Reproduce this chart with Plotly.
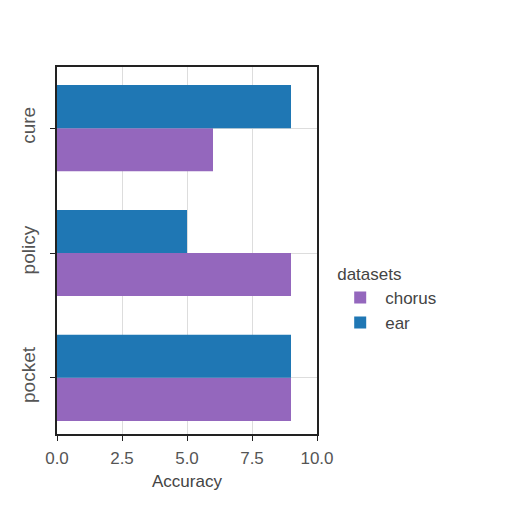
import plotly.graph_objects as go

categories = ["pocket", "policy", "cure"]
chorus = [9, 9, 6]
ear = [9, 5, 9]
x_ticks = [0, 2.5, 5, 7.5, 10]
x_tick_labels = ["0.0", "2.5", "5.0", "7.5", "10.0"]

fig = go.Figure()
fig.add_trace(go.Bar(y=categories, x=chorus, name="chorus", orientation="h",
                     marker=dict(color="#9467bd", line=dict(width=0))))
fig.add_trace(go.Bar(y=categories, x=ear, name="ear", orientation="h",
                     marker=dict(color="#1f77b4", line=dict(width=0))))

font_family = "Liberation Sans, Arial, sans-serif"
fig.update_layout(
    width=512, height=512,
    margin=dict(l=49, r=203, t=59, b=86, autoexpand=False),
    paper_bgcolor="white", plot_bgcolor="white",
    barmode="group", bargap=0.31, bargroupgap=0,
    font=dict(family=font_family, size=16, color="#555555"),
    legend=dict(title=dict(text="datasets", font=dict(size=17, color="#444444")),
                x=1.07, y=0.48, xanchor="left", yanchor="top",
                font=dict(size=17, color="#444444"), bgcolor="rgba(0,0,0,0)",
                traceorder="normal", itemwidth=40),
    xaxis=dict(range=[0, 10], tickvals=x_ticks, ticktext=x_tick_labels,
               showgrid=True, gridcolor="#dddddd", gridwidth=1,
               showline=True, linecolor="#222222", linewidth=1.5, mirror=True,
               ticks="outside", ticklen=5, tickcolor="#222222", ticklabelstandoff=3,
               title=dict(text="Accuracy", font=dict(size=17, color="#444444"), standoff=8),
               zeroline=False, tickfont=dict(size=17, color="#555555")),
    yaxis=dict(categoryorder="array", categoryarray=categories, range=[-0.45, 2.49],
               showgrid=True, gridcolor="#dddddd", gridwidth=1,
               showline=True, linecolor="#222222", linewidth=1.5, mirror=True,
               ticks="outside", ticklen=5, tickcolor="#222222", ticklabelstandoff=8,
               tickangle=-90, tickfont=dict(size=19, color="#555555"), zeroline=False),
)

fig.write_html("out.html")
